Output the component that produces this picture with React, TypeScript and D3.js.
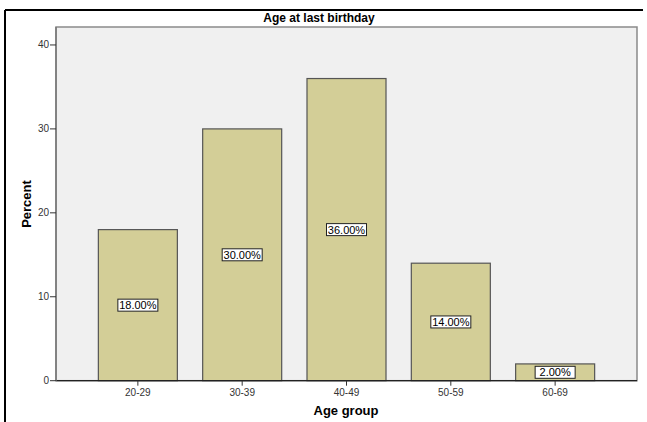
import React from "react";
import * as d3 from "d3";

const categories = ["20-29", "30-39", "40-49", "50-59", "60-69"];
const percents = [18, 30, 36, 14, 2];
const yTicks = [0, 10, 20, 30, 40];

const W = 647;
const H = 422;
const plot = { left: 56, right: 637, top: 27, bottom: 380.7 };
const FONT = "'Liberation Sans', Arial, sans-serif";

export default function App() {
  const x = d3
    .scaleBand<string>()
    .domain(categories)
    .range([plot.left, plot.right])
    .paddingInner(0.2426)
    .paddingOuter(0.406);
  const y = d3.scaleLinear().domain([0, 42.14]).range([plot.bottom, plot.top]);
  const bw = x.bandwidth();

  return (
    <svg
      width={W}
      height={H}
      style={{ position: "absolute", left: 0, top: 0, display: "block", background: "#fff" }}
      fontFamily={FONT}
    >
      {/* outer frame */}
      <line x1={5} y1={10} x2={643} y2={10} stroke="#000" strokeWidth={2} />
      <line x1={5} y1={10} x2={5} y2={H} stroke="#000" strokeWidth={2} />

      {/* title */}
      <text x={319} y={22} textAnchor="middle" fontSize={12} fontWeight="bold" fill="#000">
        Age at last birthday
      </text>

      {/* plot background */}
      <rect
        x={plot.left}
        y={plot.top}
        width={plot.right - plot.left}
        height={plot.bottom - plot.top}
        fill="#f0f0f0"
        stroke="#8a8a8a"
        strokeWidth={1.5}
      />

      {/* bars */}
      {categories.map((c, i) => (
        <rect
          key={c}
          x={x(c)!}
          y={y(percents[i])}
          width={bw}
          height={y(0) - y(percents[i])}
          fill="#d3ce97"
          stroke="#555"
          strokeWidth={1.2}
        />
      ))}

      {/* value labels */}
      {categories.map((c, i) => {
        const cx = x(c)! + bw / 2;
        const cy = (y(percents[i]) + y(0)) / 2;
        return (
          <g key={c + "l"}>
            <rect x={cx - 20} y={cy - 6} width={40} height={12} fill="#fff" stroke="#222" strokeWidth={1} />
            <text x={cx} y={cy + 4} textAnchor="middle" fontSize={11} fill="#000">
              {percents[i].toFixed(2) + "%"}
            </text>
          </g>
        );
      })}

      {/* x axis line */}
      <line x1={plot.left} y1={plot.bottom} x2={plot.right} y2={plot.bottom} stroke="#222" strokeWidth={1.2} />
      {/* y axis line */}
      <line x1={plot.left} y1={plot.top} x2={plot.left} y2={plot.bottom} stroke="#777" strokeWidth={1.5} />

      {/* y ticks */}
      {yTicks.map((t) => (
        <g key={t}>
          <line x1={50} x2={plot.left} y1={y(t)} y2={y(t)} stroke="#333" strokeWidth={1} />
          <text x={49} y={y(t) + 3.5} textAnchor="end" fontSize={10} fill="#333">
            {t}
          </text>
        </g>
      ))}

      {/* x ticks */}
      {categories.map((c) => {
        const cx = x(c)! + bw / 2;
        return (
          <g key={c + "t"}>
            <line x1={cx} x2={cx} y1={plot.bottom} y2={plot.bottom + 5} stroke="#333" strokeWidth={1} />
            <text x={cx} y={396} textAnchor="middle" fontSize={10} fill="#333">
              {c}
            </text>
          </g>
        );
      })}

      {/* axis titles */}
      <text x={346} y={415} textAnchor="middle" fontSize={13} fontWeight="bold" fill="#000">
        Age group
      </text>
      <text
        transform={`translate(31,204) rotate(-90)`}
        textAnchor="middle"
        fontSize={13}
        fontWeight="bold"
        fill="#000"
      >
        Percent
      </text>
    </svg>
  );
}
